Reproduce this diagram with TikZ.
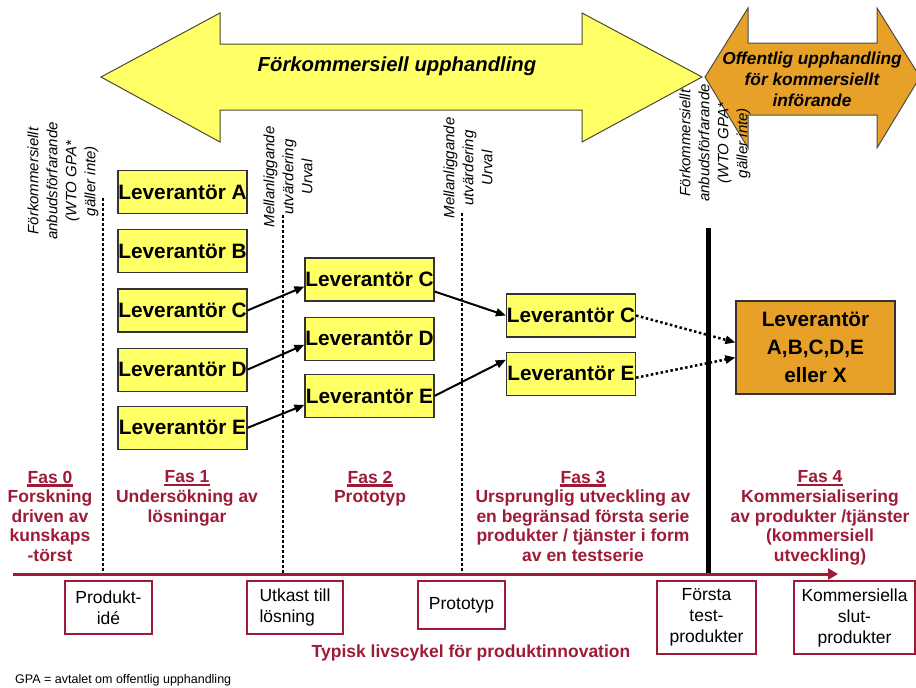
\documentclass[tikz,border=0pt]{standalone}
\usepackage{fontspec}
\setmainfont{Liberation Sans}
\usetikzlibrary{positioning,arrows.meta}

\definecolor{levyellow}{RGB}{255,255,102}
\definecolor{procorange}{RGB}{231,160,40}
\definecolor{fasred}{RGB}{158,27,56}

\begin{document}
\begin{tikzpicture}[x=1pt,y=-1pt,
  lev/.style={draw=black!80,fill=levyellow,line width=1.2pt,minimum width=129pt,
    minimum height=43pt,inner xsep=0pt,font=\fontsize{20.8}{24}\selectfont\bfseries},
  fashead/.style={text=fasred,inner sep=0pt,font=\fontsize{17.5}{19.5}\selectfont\bfseries},
  fas/.style={text=fasred,align=center,anchor=north,inner sep=0pt,font=\fontsize{17.5}{19.5}\selectfont\bfseries},
  fasline/.style={draw=fasred,line width=2.2pt},
  stage/.style={draw=fasred,fill=white,line width=1.3pt,align=center,
    font=\fontsize{17.5}{21}\selectfont},
  vlabel/.style={rotate=90,align=center,font=\fontsize{15}{19}\selectfont\itshape},
  gate/.style={line width=1.2pt,dash pattern=on 3pt off 2pt},
  arr/.style={-{Triangle[length=10pt,width=8pt]},line width=2pt},
  dotarr/.style={-{Triangle[length=10pt,width=8pt]},line width=2.5pt,dash pattern=on 2.5pt off 2.5pt},
  timeline/.style={draw=fasred,line width=3pt,-{Triangle[length=10pt,width=11pt]}}]
\useasboundingbox (0,0) rectangle (916,688);

% upphandlingspilar
\draw[fill=levyellow,draw=black!60!olive,line width=1pt]
  (101,77) -- (220,13) -- (220,44) -- (582,44) -- (582,13) -- (702,77)
  -- (582,142) -- (582,110) -- (220,110) -- (220,142) -- cycle;
\draw[fill=procorange,draw=black!70,line width=1pt]
  (705,77) -- (748,8) -- (748,43) -- (877,43) -- (877,8) -- (920,77)
  -- (877,148) -- (877,115) -- (748,115) -- (748,148) -- cycle;
\node[font=\fontsize{20.3}{24}\selectfont\bfseries\itshape] (pcp) at (397,66) {Förkommersiell upphandling};
\node[align=center,font=\fontsize{17.3}{21}\selectfont\bfseries\itshape] (ppi) at (812,79)
  {Offentlig upphandling\\för kommersiellt\\införande};

% beslutspunkter
\node[vlabel] (g0) at (63,181) {Förkommersiellt\\anbudsförfarande\\(WTO GPA*\\gäller inte)};
\node[vlabel] (g1) at (288,177) {Mellanliggande\\utvärdering\\Urval};
\node[vlabel] (g2) at (468,168) {Mellanliggande\\utvärdering\\Urval};
\node[vlabel] (g3) at (715,143) {Förkommersiellt\\anbudsförfarande\\(WTO GPA*\\gäller inte)};

\coordinate (d0t) at (103,198);
\coordinate (d0b) at (103,573);
\coordinate (d1t) at (283,215);
\coordinate (d1b) at (283,573);
\coordinate (d2t) at (462,213);
\coordinate (d2b) at (462,573);
\coordinate (d3t) at (708,228);
\coordinate (d3b) at (708,574);
\draw[gate] (d0t) -- (d0b);
\draw[gate] (d1t) -- (d1b);
\draw[gate] (d2t) -- (d2b);
\draw[line width=5pt] (d3t) -- (d3b);

% leverantörer
\node[lev] (a1) at (182.5,192) {Leverantör A};
\node[lev] (b1) [below=15pt of a1] {Leverantör B};
\node[lev] (c1) [below=15pt of b1] {Leverantör C};
\node[lev] (d1) [below=15pt of c1] {Leverantör D};
\node[lev] (e1) [below=14pt of d1] {Leverantör E};

\node[lev] (c2) at (369.5,279.5) {Leverantör C};
\node[lev] (d2) [below=15pt of c2] {Leverantör D};
\node[lev] (e2) [below=13pt of d2] {Leverantör E};

\node[lev] (c3) at (571,315.5) {Leverantör C};
\node[lev] (e3) [below=14pt of c3] {Leverantör E};

\node[lev,fill=procorange,minimum width=159pt,minimum height=93pt,align=center,
  font=\fontsize{20.8}{28}\selectfont\bfseries] (x4) at (815.5,347.5) {Leverantör\\A,B,C,D,E\\eller X};

\draw[arr] (c1.east) -- ([yshift=-7pt]c2.west);
\draw[arr] (d1.east) -- ([yshift=-6pt]d2.west);
\draw[arr] (e1.east) -- ([yshift=-9pt]e2.west);
\draw[arr] ([yshift=-12pt]c2.east) -- (c3.west);
\draw[arr] (e2.east) -- ([yshift=14pt]e3.west);
\draw[dotarr] (c3.east) -- ([yshift=5pt]x4.west);
\draw[dotarr] ([yshift=-4pt]e3.east) -- ([yshift=-10pt]x4.west);

% faser
\node[fashead] (h0) at (50,477) {Fas 0};
\node[fashead] (h1) at (187,477) {Fas 1};
\node[fashead] (h2) at (370,477) {Fas 2};
\node[fashead] (h3) at (583,477) {Fas 3};
\node[fashead] (h4) at (820,477) {Fas 4};
\draw[fasline] ([yshift=-2pt]h0.south west) -- ([yshift=-2pt]h0.south east);
\draw[fasline] ([yshift=-2pt]h1.south west) -- ([yshift=-2pt]h1.south east);
\draw[fasline] ([yshift=-2pt]h2.south west) -- ([yshift=-2pt]h2.south east);
\draw[fasline] ([yshift=-2pt]h3.south west) -- ([yshift=-2pt]h3.south east);
\draw[fasline] ([yshift=-2pt]h4.south west) -- ([yshift=-2pt]h4.south east);

\node[fas] (f0) at (50,490) {Forskning\\driven av\\kunskaps\\-törst};
\node[fas] (f1) at (187,490) {Undersökning av\\lösningar};
\node[fas] (f2) at (370,490) {Prototyp};
\node[fas] (f3) at (583,490) {Ursprunglig utveckling av\\en begränsad första serie\\produkter / tjänster i form\\av en testserie};
\node[fas] (f4) at (820,490) {Kommersialisering\\av produkter /tjänster\\(kommersiell\\utveckling)};

% livscykel
\coordinate (t0) at (13,574);
\coordinate (t1) at (838,574);
\draw[timeline] (t0) -- (t1);

\node[stage,minimum width=87pt,minimum height=53pt] (s0) at (108.5,607.5) {Produkt-\\idé};
\node[stage,minimum width=96pt,minimum height=53pt,align=left] (s1) at (295,607.5) {Utkast till\\lösning};
\node[stage,minimum width=87pt,minimum height=48pt] (s2) at (461.5,605) {Prototyp};
\node[stage,minimum width=99pt,minimum height=73pt] (s3) at (706.5,617.5) {Första\\test-\\produkter};
\node[stage,minimum width=121pt,minimum height=73pt] (s4) at (854.5,617.5) {Kommersiella\\slut-\\produkter};

\node[text=fasred,font=\fontsize{17.5}{20}\selectfont\bfseries] (cycle) at (471,653)
  {Typisk livscykel för produktinnovation};
\node[anchor=west,inner sep=0pt,font=\fontsize{12.5}{14}\selectfont] (gpa) at (15,680)
  {GPA = avtalet om offentlig upphandling};
\end{tikzpicture}
\end{document}
